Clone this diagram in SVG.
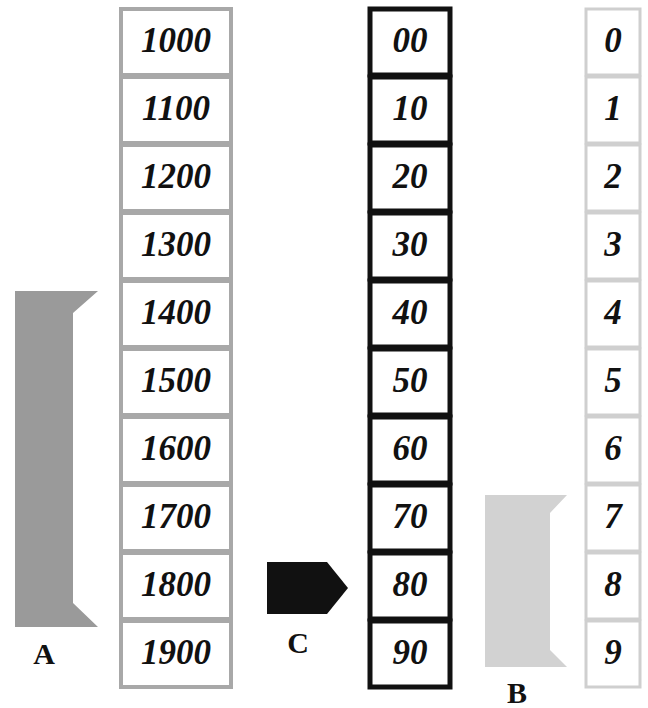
<svg xmlns="http://www.w3.org/2000/svg" width="648" height="708" viewBox="0 0 648 708">
<style>
.t{font-family:"Liberation Serif","Times New Roman",serif;font-weight:bold;font-style:italic;font-size:35px;fill:#111;text-anchor:middle}
.lab{font-family:"Liberation Serif","Times New Roman",serif;font-weight:bold;font-size:30px;fill:#111;text-anchor:middle}
.c1{fill:#fff;stroke:#a8a8a8;stroke-width:4}
.c2{fill:#fff;stroke:#111;stroke-width:5}
.c3{fill:#fff;stroke:#cfcfcf;stroke-width:3}
</style>
<rect width="648" height="708" fill="#fff"/>
<g id="col-centuries">
<g id="n1000"><rect class="c1" x="121" y="9" width="110" height="66"/><text class="t" x="176" y="52">1000</text></g>
<g id="n1100"><rect class="c1" x="121" y="77" width="110" height="66"/><text class="t" x="176" y="120">1100</text></g>
<g id="n1200"><rect class="c1" x="121" y="145" width="110" height="66"/><text class="t" x="176" y="188">1200</text></g>
<g id="n1300"><rect class="c1" x="121" y="213" width="110" height="66"/><text class="t" x="176" y="256">1300</text></g>
<g id="n1400"><rect class="c1" x="121" y="281" width="110" height="66"/><text class="t" x="176" y="324">1400</text></g>
<g id="n1500"><rect class="c1" x="121" y="349" width="110" height="66"/><text class="t" x="176" y="392">1500</text></g>
<g id="n1600"><rect class="c1" x="121" y="417" width="110" height="66"/><text class="t" x="176" y="460">1600</text></g>
<g id="n1700"><rect class="c1" x="121" y="485" width="110" height="66"/><text class="t" x="176" y="528">1700</text></g>
<g id="n1800"><rect class="c1" x="121" y="553" width="110" height="66"/><text class="t" x="176" y="596">1800</text></g>
<g id="n1900"><rect class="c1" x="121" y="621" width="110" height="66"/><text class="t" x="176" y="664">1900</text></g>
</g>
<g id="col-decades">
<g id="n00"><rect class="c2" x="370" y="9" width="80" height="66"/><text class="t" x="410" y="52">00</text></g>
<g id="n10"><rect class="c2" x="370" y="77" width="80" height="66"/><text class="t" x="410" y="120">10</text></g>
<g id="n20"><rect class="c2" x="370" y="145" width="80" height="66"/><text class="t" x="410" y="188">20</text></g>
<g id="n30"><rect class="c2" x="370" y="213" width="80" height="66"/><text class="t" x="410" y="256">30</text></g>
<g id="n40"><rect class="c2" x="370" y="281" width="80" height="66"/><text class="t" x="410" y="324">40</text></g>
<g id="n50"><rect class="c2" x="370" y="349" width="80" height="66"/><text class="t" x="410" y="392">50</text></g>
<g id="n60"><rect class="c2" x="370" y="417" width="80" height="66"/><text class="t" x="410" y="460">60</text></g>
<g id="n70"><rect class="c2" x="370" y="485" width="80" height="66"/><text class="t" x="410" y="528">70</text></g>
<g id="n80"><rect class="c2" x="370" y="553" width="80" height="66"/><text class="t" x="410" y="596">80</text></g>
<g id="n90"><rect class="c2" x="370" y="621" width="80" height="66"/><text class="t" x="410" y="664">90</text></g>
</g>
<g id="col-units">
<g id="n0"><rect class="c3" x="586" y="9" width="54" height="66"/><text class="t" x="613" y="52">0</text></g>
<g id="n1"><rect class="c3" x="586" y="77" width="54" height="66"/><text class="t" x="613" y="120">1</text></g>
<g id="n2"><rect class="c3" x="586" y="145" width="54" height="66"/><text class="t" x="613" y="188">2</text></g>
<g id="n3"><rect class="c3" x="586" y="213" width="54" height="66"/><text class="t" x="613" y="256">3</text></g>
<g id="n4"><rect class="c3" x="586" y="281" width="54" height="66"/><text class="t" x="613" y="324">4</text></g>
<g id="n5"><rect class="c3" x="586" y="349" width="54" height="66"/><text class="t" x="613" y="392">5</text></g>
<g id="n6"><rect class="c3" x="586" y="417" width="54" height="66"/><text class="t" x="613" y="460">6</text></g>
<g id="n7"><rect class="c3" x="586" y="485" width="54" height="66"/><text class="t" x="613" y="528">7</text></g>
<g id="n8"><rect class="c3" x="586" y="553" width="54" height="66"/><text class="t" x="613" y="596">8</text></g>
<g id="n9"><rect class="c3" x="586" y="621" width="54" height="66"/><text class="t" x="613" y="664">9</text></g>
</g>
<g id="bracketA">
<path d="M15,291 L98,291 L73,313 L73,603 L98,627 L15,627 Z" fill="#9a9a9a"/>
<text class="lab" x="44" y="664">A</text>
</g>
<g id="markerC">
<path d="M267,562 L327,562 L348,588 L327,614 L267,614 Z" fill="#111"/>
<text class="lab" x="298" y="653">C</text>
</g>
<g id="bracketB">
<path d="M485,495 L567,495 L550,513 L550,650 L567,667 L485,667 Z" fill="#d2d2d2"/>
<text class="lab" x="517" y="703">B</text>
</g>
<g id="connectors"></g>
</svg>
